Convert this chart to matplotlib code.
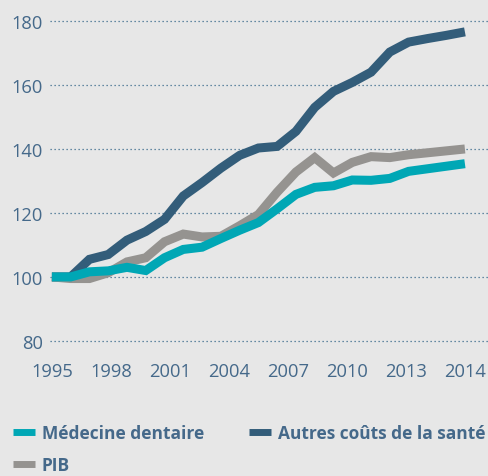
import numpy as np
import matplotlib.pyplot as plt
from matplotlib.lines import Line2D

# Index 1995 = 100, one value per point on the chart
tick_labels = ['1995', '1998', '2001', '2004', '2007', '2010', '2013', '2014']

dentaire = [100, 100, 101.6, 101.9, 103, 102, 106, 108.6, 109.3, 112, 114.6, 117,
            121.3, 125.8, 128, 128.5, 130.3, 130.2, 130.8, 133, 133.8, 134.6, 135.4]
autres = [100, 100, 105.5, 107, 111.5, 114.2, 118, 125.3, 129.5, 134, 138, 140.3,
          140.8, 145.5, 153, 158, 160.8, 164, 170.3, 173.4, 174.5, 175.5, 176.6]
pib = [100, 99.5, 99.5, 101.3, 104.7, 106, 111, 113.4, 112.5, 112.7, 116, 119.5,
       126.5, 132.8, 137.3, 132.5, 135.8, 137.6, 137.3, 138.2, 138.8, 139.4, 140]

c_teal = '#00a7b5'
c_dark = '#335d7a'
c_gray = '#959390'
c_text = '#45698a'
bg = '#e7e7e7'

plt.rcParams['font.family'] = ['Open Sans', 'DejaVu Sans']

fig = plt.figure(figsize=(4.88, 4.77), dpi=100, facecolor=bg)
ax = fig.add_axes([50 / 488, 1 - 348 / 477, 1 - 50 / 488, 338 / 477])
ax.set_facecolor(bg)

x = np.arange(len(dentaire))
lw = 6.5
ax.plot(x, autres, color=c_dark, lw=lw, solid_capstyle='butt', solid_joinstyle='miter', zorder=3)
ax.plot(x, pib, color=c_gray, lw=lw, solid_capstyle='butt', solid_joinstyle='miter', zorder=4)
ax.plot(x, dentaire, color=c_teal, lw=lw, solid_capstyle='butt', solid_joinstyle='miter', zorder=5)

ax.set_xlim(-0.1, 23.23)
ax.set_ylim(78.1, 183.75)

ax.set_yticks(range(80, 181, 20))
ax.set_xticks(np.linspace(0, 22, len(tick_labels)))
ax.set_xticklabels(tick_labels)
ax.grid(axis='y', color='#3a6a8c', linestyle=(0, (1, 2.2)), linewidth=0.9)
ax.tick_params(axis='both', length=0, labelsize=13.2, colors=c_text)
ax.tick_params(axis='y', pad=5)
ax.tick_params(axis='x', pad=11)
for s in ax.spines.values():
    s.set_visible(False)

handles = [
    Line2D([], [], color=c_teal, lw=5, solid_capstyle='butt'),
    Line2D([], [], color=c_gray, lw=5, solid_capstyle='butt'),
    Line2D([], [], color=c_dark, lw=5, solid_capstyle='butt'),
]
labels = ['Médecine dentaire', 'PIB', 'Autres coûts de la santé']
leg = fig.legend(handles, labels, ncol=2, loc='upper left',
                 bbox_to_anchor=(13 / 488, 1 - 425 / 477), frameon=False,
                 prop={'weight': 'bold', 'size': 12.5}, labelcolor=c_text,
                 handlelength=1.27, handletextpad=0.4, columnspacing=2.6,
                 labelspacing=0.8, borderpad=0, borderaxespad=0)

fig.savefig('out.png', dpi=100, facecolor=bg)
